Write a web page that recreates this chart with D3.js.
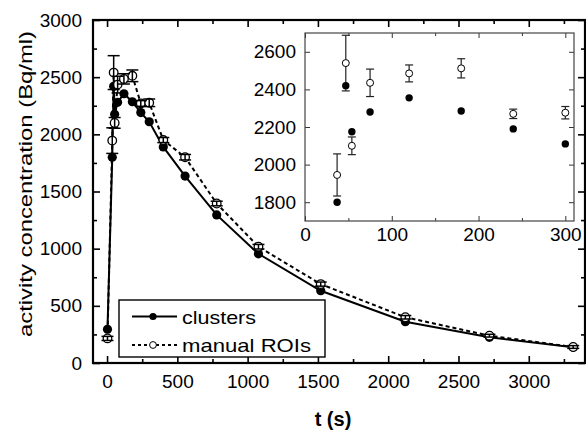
<!DOCTYPE html>
<html>
<head>
<meta charset="utf-8">
<script src="https://cdn.jsdelivr.net/npm/d3@7"></script>
<style>
  body { margin: 0; background: #fff; }
  svg { display: block; font-family: "Liberation Sans", Arial, sans-serif; }
</style>
</head>
<body>
<div class="chart"></div>
<script>
// time points (s) and the two curves
var times = [3, 37, 47, 54, 75, 120, 180, 240, 300, 400, 555, 780, 1077, 1520, 2122, 2720, 3316];
var clusters = [295, 1800, 2420, 2175, 2280, 2355, 2285, 2190, 2110, 1890, 1635, 1295, 955, 632, 361, 225, 137];
var manualROIs = [215, 1945, 2540, 2100, 2435, 2485, 2512, 2270, 2276, 1950, 1800, 1395, 1017, 690, 400, 239, 140];
var manualErr = [18, 112, 148, 47, 73, 45, 51, 25, 33, 22, 24, 20, 20, 18, 15, 12, 12];

var xTicks = [0, 500, 1000, 1500, 2000, 2500, 3000];
var yTicks = [0, 500, 1000, 1500, 2000, 2500, 3000];
var insetXTicks = [0, 100, 200, 300];
var insetYTicks = [1800, 2000, 2200, 2400, 2600];

var legendLabels = ["clusters", "manual ROIs"];

var W = 586, H = 431;
var fmt = d3.format("d");

var data = times.map(function(t, i) {
  return { t: t, c: clusters[i], m: manualROIs[i], e: manualErr[i] };
});

var svg = d3.select(".chart").append("svg")
  .attr("width", W)
  .attr("height", H);

// main plot scales
var x = d3.scaleLinear().domain([-100, 3400]).range([93, 585]);
var y = d3.scaleLinear().domain([0, 3000]).range([363, 20]);

function minorOf(majors, step) {
  var out = [];
  for (var i = 0; i < majors.length; i++) out.push(majors[i] + step);
  return out;
}

var xMinor = minorOf(xTicks, 250).filter(function(v){ return v < 3400; });
var yMinor = minorOf(yTicks, 250).filter(function(v){ return v < 3000; });

// ---- axes of main plot (ticks inward on all sides)
svg.append("g").attr("transform", "translate(0,363)")
  .call(d3.axisBottom(x).tickValues(xTicks).tickSize(-7).tickSizeOuter(0).tickPadding(12).tickFormat(fmt));
svg.append("g").attr("transform", "translate(0,363)")
  .call(d3.axisBottom(x).tickValues(xMinor).tickSize(-4).tickSizeOuter(0).tickFormat(""));
svg.append("g").attr("transform", "translate(0,20)")
  .call(d3.axisTop(x).tickValues(xTicks).tickSize(-7).tickSizeOuter(0).tickFormat(""));
svg.append("g").attr("transform", "translate(0,20)")
  .call(d3.axisTop(x).tickValues(xMinor).tickSize(-4).tickSizeOuter(0).tickFormat(""));

svg.append("g").attr("transform", "translate(93,0)")
  .call(d3.axisLeft(y).tickValues(yTicks).tickSize(-7).tickSizeOuter(0).tickPadding(11).tickFormat(fmt));
svg.append("g").attr("transform", "translate(93,0)")
  .call(d3.axisLeft(y).tickValues(yMinor).tickSize(-4).tickSizeOuter(0).tickFormat(""));
svg.append("g").attr("transform", "translate(585,0)")
  .call(d3.axisRight(y).tickValues(yTicks).tickSize(-7).tickSizeOuter(0).tickFormat(""));
svg.append("g").attr("transform", "translate(585,0)")
  .call(d3.axisRight(y).tickValues(yMinor).tickSize(-4).tickSizeOuter(0).tickFormat(""));

svg.selectAll(".domain").remove();
svg.selectAll(".tick line").attr("stroke", "#000").attr("stroke-width", 1.6);
svg.selectAll(".tick text").attr("font-size", 19).attr("fill", "#000")
  .attr("font-family", "'Liberation Sans', Arial, sans-serif");

// frame
svg.append("rect")
  .attr("x", x(-100)).attr("y", y(3000))
  .attr("width", x(3400) - x(-100)).attr("height", y(0) - y(3000))
  .attr("fill", "none").attr("stroke", "#000").attr("stroke-width", 2.2);

// axis titles
svg.append("text")
  .attr("transform", "translate(32,184) rotate(-90)")
  .attr("text-anchor", "middle")
  .attr("font-size", 19)
  .attr("textLength", 306)
  .attr("lengthAdjust", "spacingAndGlyphs")
  .text("activity concentration (Bq/ml)");

svg.append("text")
  .attr("x", 333).attr("y", 426)
  .attr("text-anchor", "middle")
  .attr("font-size", 20)
  .attr("font-weight", "bold")
  .text("t (s)");

// ---- curves
var lineC = d3.line().x(function(d){ return x(d.t); }).y(function(d){ return y(d.c); });
var lineM = d3.line().x(function(d){ return x(d.t); }).y(function(d){ return y(d.m); });

svg.append("path").datum(data)
  .attr("d", lineC).attr("fill", "none")
  .attr("stroke", "#000").attr("stroke-width", 2);

svg.append("path").datum(data)
  .attr("d", lineM).attr("fill", "none")
  .attr("stroke", "#000").attr("stroke-width", 2)
  .attr("stroke-dasharray", "4,3");

svg.selectAll(".dotC").data(data).enter()
  .append("circle").attr("class", "dotC")
  .attr("cx", function(d){ return x(d.t); })
  .attr("cy", function(d){ return y(d.c); })
  .attr("r", 4.6).attr("fill", "#000");

svg.selectAll(".dotM").data(data).enter()
  .append("circle").attr("class", "dotM")
  .attr("cx", function(d){ return x(d.t); })
  .attr("cy", function(d){ return y(d.m); })
  .attr("r", 4.3).attr("fill", "#fff")
  .attr("stroke", "#000").attr("stroke-width", 1.3);

// error bars on manual ROIs
var eb = svg.selectAll(".err").data(data).enter().append("g").attr("class", "err")
  .attr("stroke", "#000").attr("stroke-width", 1.5);
eb.append("line")
  .attr("x1", function(d){ return x(d.t); }).attr("x2", function(d){ return x(d.t); })
  .attr("y1", function(d){ return y(d.m + d.e); }).attr("y2", function(d){ return y(d.m - d.e); });
eb.append("line")
  .attr("x1", function(d){ return x(d.t) - 6; }).attr("x2", function(d){ return x(d.t) + 6; })
  .attr("y1", function(d){ return y(d.m + d.e); }).attr("y2", function(d){ return y(d.m + d.e); });
eb.append("line")
  .attr("x1", function(d){ return x(d.t) - 6; }).attr("x2", function(d){ return x(d.t) + 6; })
  .attr("y1", function(d){ return y(d.m - d.e); }).attr("y2", function(d){ return y(d.m - d.e); });

// ---- legend
var lg = svg.append("g");
lg.append("rect")
  .attr("x", 119).attr("y", 300).attr("width", 206).attr("height", 57)
  .attr("fill", "#fff").attr("stroke", "#000").attr("stroke-width", 1.4);

var lgRows = [316.5, 345];
lg.append("line").attr("x1", 132).attr("x2", 177).attr("y1", lgRows[0]).attr("y2", lgRows[0])
  .attr("stroke", "#000").attr("stroke-width", 2);
lg.append("circle").attr("cx", 153).attr("cy", lgRows[0]).attr("r", 3.6).attr("fill", "#000");
lg.append("line").attr("x1", 132).attr("x2", 177).attr("y1", lgRows[1]).attr("y2", lgRows[1])
  .attr("stroke", "#000").attr("stroke-width", 2).attr("stroke-dasharray", "3,3");
lg.append("circle").attr("cx", 153).attr("cy", lgRows[1]).attr("r", 3.4).attr("fill", "#fff")
  .attr("stroke", "#000").attr("stroke-width", 1);

var lgWidths = [74, 129];
lg.selectAll(".lgt").data(legendLabels).enter().append("text")
  .attr("x", 182)
  .attr("y", function(d, i){ return lgRows[i] + 7; })
  .attr("font-size", 19)
  .attr("textLength", function(d, i){ return lgWidths[i]; })
  .attr("lengthAdjust", "spacingAndGlyphs")
  .text(function(d){ return d; });

// ---- inset
var xi = d3.scaleLinear().domain([0, 310]).range([305, 574]);
var yi = d3.scaleLinear().domain([1700, 2700]).range([221, 33]);
var insetData = data.filter(function(d){ return d.t >= 10 && d.t <= 310; });
var insetXMinor = [50, 150, 250];

var inset = svg.append("g");
inset.append("rect")
  .attr("x", 305).attr("y", 33).attr("width", 269).attr("height", 188)
  .attr("fill", "#fff");

inset.append("g").attr("transform", "translate(0,221)")
  .call(d3.axisBottom(xi).tickValues(insetXTicks).tickSize(-5).tickSizeOuter(0).tickPadding(7).tickFormat(fmt));
inset.append("g").attr("transform", "translate(0,221)")
  .call(d3.axisBottom(xi).tickValues(insetXMinor).tickSize(-3).tickSizeOuter(0).tickFormat(""));
inset.append("g").attr("transform", "translate(0,33)")
  .call(d3.axisTop(xi).tickValues(insetXTicks).tickSize(-5).tickSizeOuter(0).tickFormat(""));
inset.append("g").attr("transform", "translate(0,33)")
  .call(d3.axisTop(xi).tickValues(insetXMinor).tickSize(-3).tickSizeOuter(0).tickFormat(""));
inset.append("g").attr("transform", "translate(305,0)")
  .call(d3.axisLeft(yi).tickValues(insetYTicks).tickSize(-5).tickSizeOuter(0).tickPadding(9).tickFormat(fmt));
inset.append("g").attr("transform", "translate(574,0)")
  .call(d3.axisRight(yi).tickValues(insetYTicks).tickSize(-5).tickSizeOuter(0).tickFormat(""));

inset.selectAll(".domain").remove();
inset.selectAll(".tick line").attr("stroke", "#333").attr("stroke-width", 1);
inset.selectAll(".tick text").attr("font-size", 19).attr("fill", "#000")
  .attr("font-family", "'Liberation Sans', Arial, sans-serif");

inset.append("rect")
  .attr("x", 305).attr("y", 33).attr("width", 269).attr("height", 188)
  .attr("fill", "none").attr("stroke", "#444").attr("stroke-width", 1.2);

var ieb = inset.selectAll(".ierr").data(insetData).enter().append("g")
  .attr("stroke", "#222").attr("stroke-width", 1.2);
ieb.append("line")
  .attr("x1", function(d){ return xi(d.t); }).attr("x2", function(d){ return xi(d.t); })
  .attr("y1", function(d){ return yi(d.m + d.e); }).attr("y2", function(d){ return yi(d.m - d.e); });
ieb.append("line")
  .attr("x1", function(d){ return xi(d.t) - 4; }).attr("x2", function(d){ return xi(d.t) + 4; })
  .attr("y1", function(d){ return yi(d.m + d.e); }).attr("y2", function(d){ return yi(d.m + d.e); });
ieb.append("line")
  .attr("x1", function(d){ return xi(d.t) - 4; }).attr("x2", function(d){ return xi(d.t) + 4; })
  .attr("y1", function(d){ return yi(d.m - d.e); }).attr("y2", function(d){ return yi(d.m - d.e); });

inset.selectAll(".idotC").data(insetData).enter().append("circle")
  .attr("cx", function(d){ return xi(d.t); })
  .attr("cy", function(d){ return yi(d.c); })
  .attr("r", 3.7).attr("fill", "#000");

inset.selectAll(".idotM").data(insetData).enter().append("circle")
  .attr("cx", function(d){ return xi(d.t); })
  .attr("cy", function(d){ return yi(d.m); })
  .attr("r", 3.5).attr("fill", "#fff")
  .attr("stroke", "#000").attr("stroke-width", 1);
</script>
</body>
</html>
